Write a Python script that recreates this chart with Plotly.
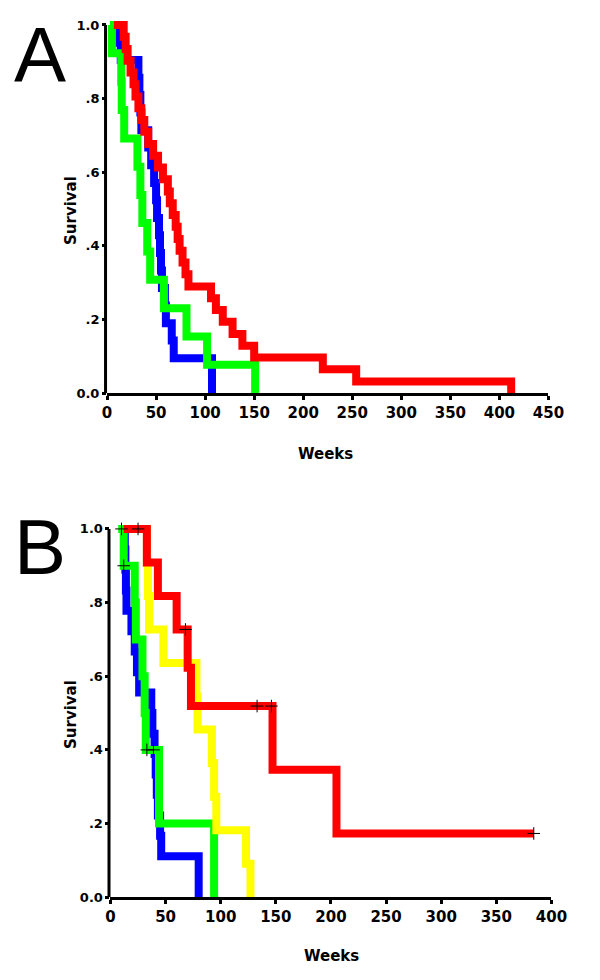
import numpy as np
import plotly.graph_objects as go

# ---------------- Panel A data (weeks, survival level after each step) -------------
a_blue_t = [8, 12, 14, 32, 33, 34, 35, 42, 45, 48, 50, 51, 53, 54, 55, 56, 59, 60, 66, 68, 107]
a_blue_s = [1.0, 0.952, 0.905, 0.857, 0.810, 0.762, 0.714, 0.667, 0.619, 0.571, 0.524, 0.476,
            0.429, 0.381, 0.333, 0.286, 0.238, 0.190, 0.143, 0.095, 0.0]

a_green_t = [3, 5, 14.5, 15, 17.5, 31, 34, 36, 41, 44, 58, 81, 102, 151]
a_green_s = [1.0, 0.923, 0.846, 0.769, 0.692, 0.615, 0.538, 0.462, 0.385, 0.308, 0.231, 0.154, 0.077, 0.0]

a_red_t = [7, 17, 19, 21, 24, 27, 29, 32, 35, 38, 42, 47, 52, 57, 62, 64, 67, 70, 72, 74, 77, 80, 83,
           106, 111, 118, 128, 138, 150, 220, 254, 412]
a_red_s = [1.0, 0.968, 0.935, 0.903, 0.871, 0.839, 0.806, 0.774, 0.742, 0.710, 0.677, 0.645, 0.613,
           0.581, 0.548, 0.516, 0.484, 0.452, 0.419, 0.387, 0.355, 0.323, 0.290, 0.258, 0.226,
           0.194, 0.161, 0.129, 0.097, 0.065, 0.032, 0.0]

# ---------------- Panel B data -------------
b_blue_t = [9, 13, 13.5, 14, 14.5, 19, 22, 24, 26, 37, 38, 40, 41, 42, 43, 45, 46, 80]
b_blue_s = [1.0, 0.944, 0.889, 0.833, 0.778, 0.722, 0.667, 0.611, 0.556, 0.5, 0.444, 0.389,
            0.333, 0.278, 0.222, 0.167, 0.111, 0.0]

b_green_t = [7, 12, 22, 23, 29, 31, 32, 44, 94]
b_green_s = [1.0, 0.9, 0.8, 0.7, 0.6, 0.5, 0.4, 0.2, 0.0]
b_green_cens = [10, 12, 33, 39]

b_yellow_t = [15, 33, 34, 35, 48, 78, 79, 92, 94, 96, 123, 127]
b_yellow_s = [1.0, 0.909, 0.818, 0.727, 0.636, 0.545, 0.455, 0.364, 0.273, 0.182, 0.091, 0.0]

b_red_t = [12, 33, 43, 60, 70, 73, 147, 205, 384]
b_red_s = [1.0, 0.909, 0.818, 0.727, 0.623, 0.519, 0.346, 0.173, 0.173]
b_red_cens = [25, 68, 133, 146, 384]

a_xticks = list(range(0, 451, 50))
b_xticks = list(range(0, 401, 50))
y_ticks = [0.0, 0.2, 0.4, 0.6, 0.8, 1.0]
y_ticktext = ["0.0", ".2", ".4", ".6", ".8", "1.0"]

BLUE, GREEN, YELLOW, RED = "#0000FF", "#00FF00", "#FFFF00", "#FF0000"
W, H = 600, 980
LW = 8

# observed page placement of the figure: offset 8px, drawn area 585 x 972
OX, OY, PW, PH = 8.0, 8.0, 585.0, 972.0


def fx(px):
    return (px - OX) / PW


def fy(py):
    return 1 - (py - OY) / PH


def step_value(ts, ss, t):
    idx = np.searchsorted(np.array(ts), t, side="right") - 1
    return float(np.array(ss)[max(idx, 0)])


fig = go.Figure()

for t, s, c in [(a_blue_t, a_blue_s, BLUE), (a_green_t, a_green_s, GREEN), (a_red_t, a_red_s, RED)]:
    fig.add_trace(go.Scatter(x=t, y=s, mode="lines", line=dict(color=c, width=LW, shape="hv"),
                             xaxis="x", yaxis="y", showlegend=False, hoverinfo="skip"))

for t, s, c in [(b_blue_t, b_blue_s, BLUE), (b_green_t, b_green_s, GREEN),
                (b_yellow_t, b_yellow_s, YELLOW), (b_red_t, b_red_s, RED)]:
    fig.add_trace(go.Scatter(x=t, y=s, mode="lines", line=dict(color=c, width=LW, shape="hv"),
                             xaxis="x2", yaxis="y2", showlegend=False, hoverinfo="skip"))

cx, cy = [], []
for ts, ss, cens in [(b_green_t, b_green_s, b_green_cens), (b_red_t, b_red_s, b_red_cens)]:
    for c in cens:
        cx.append(c)
        cy.append(step_value(ts, ss, c))
fig.add_trace(go.Scatter(x=cx, y=cy, mode="markers", xaxis="x2", yaxis="y2", showlegend=False,
                         hoverinfo="skip", cliponaxis=False,
                         marker=dict(symbol="cross-thin", size=9, line=dict(color="black", width=1))))

# target geometry (pixels): left/right of x axis, pixel of survival 1.0 and 0.0
YMAX = 1.015
A_left, A_right, A_y1, A_y0 = 103, 549, 23, 392
B_left, B_right, B_y1, B_y0 = 106.5, 552, 528, 897
A_top = A_y1 - (YMAX - 1) * (A_y0 - A_y1)
B_top = B_y1 - (YMAX - 1) * (B_y0 - B_y1)

xtickfont = dict(family="DejaVu Sans", size=15, color="black", weight="bold")
ytickfont = dict(family="DejaVu Sans", size=13, color="black", weight="bold")
common_x = dict(showline=True, linecolor="black", linewidth=3, ticks="outside", ticklen=4,
                tickwidth=3, tickcolor="black", showgrid=False, zeroline=False, tickfont=xtickfont,
                fixedrange=True)
common_y = dict(showline=False, ticks="outside", ticklen=4, tickwidth=3, tickcolor="black",
                showgrid=False, zeroline=False, tickfont=ytickfont, range=[0, YMAX],
                tickvals=y_ticks, ticktext=y_ticktext, tickmode="array", fixedrange=True)

fig.update_layout(
    width=W, height=H, margin=dict(l=0, r=0, t=0, b=0),
    paper_bgcolor="white", plot_bgcolor="white",
    xaxis=dict(domain=[fx(A_left), fx(A_right)], range=[0, 450], tickvals=a_xticks, anchor="y", **common_x),
    yaxis=dict(domain=[fy(A_y0), fy(A_top)], anchor="x", **common_y),
    xaxis2=dict(domain=[fx(B_left), fx(B_right)], range=[0, 400], tickvals=b_xticks, anchor="y2", **common_x),
    yaxis2=dict(domain=[fy(B_y0), fy(B_top)], anchor="x2", **common_y),
)

# y axis lines from 0 to 1.0 only
for left, yref in [(A_left, "y"), (B_left, "y2")]:
    xp = fx(left - 1.5)
    fig.add_shape(type="line", xref="paper", yref=yref, x0=xp, x1=xp, y0=0, y1=1.0,
                  line=dict(color="black", width=3))

labfont = dict(family="DejaVu Sans", size=15, color="black", weight="bold")
letterfont = dict(family="Liberation Sans", size=78, color="black")
ann = [
    dict(text="A", x=0.0, y=1.0, xanchor="left", yanchor="top", borderpad=0, font=letterfont),
    dict(text="B", x=0.0, y=fy(546), xanchor="left", yanchor="middle", borderpad=0, font=letterfont),
    dict(text="Survival", x=fx(66), y=fy(209), textangle=-90, font=labfont),
    dict(text="Survival", x=fx(66), y=fy(714), textangle=-90, font=labfont),
    dict(text="Weeks", x=fx(324), y=fy(453), font=labfont),
    dict(text="Weeks", x=fx(330), y=fy(956), font=labfont),
]
for a in ann:
    a.setdefault("xanchor", "center")
    a.setdefault("yanchor", "middle")
    fig.add_annotation(xref="paper", yref="paper", showarrow=False, **a)

fig.write_html("out.html")
